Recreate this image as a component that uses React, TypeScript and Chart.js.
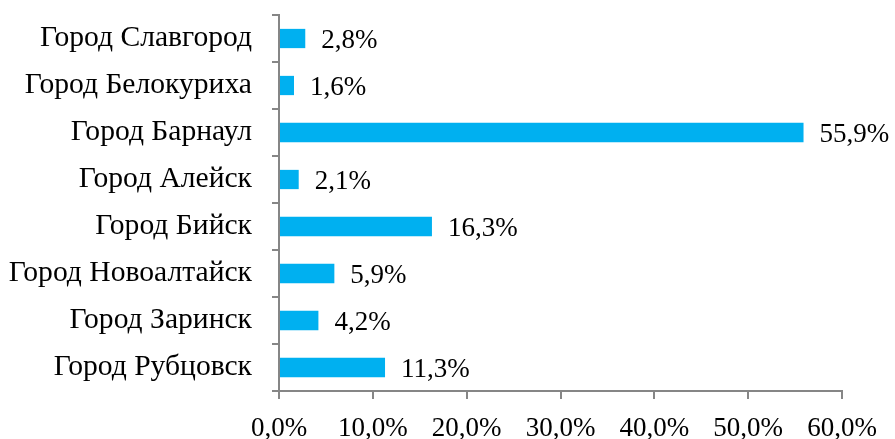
import React, { useEffect, useRef } from "react";
import { Chart, registerables } from "chart.js";

Chart.register(...registerables);

const categories = [
  "Город Славгород",
  "Город Белокуриха",
  "Город Барнаул",
  "Город Алейск",
  "Город Бийск",
  "Город Новоалтайск",
  "Город Заринск",
  "Город Рубцовск",
];
const values = [2.8, 1.6, 55.9, 2.1, 16.3, 5.9, 4.2, 11.3];
const xTicks = [0, 10, 20, 30, 40, 50, 60];

const fmt = (v: number) => v.toFixed(1).replace(".", ",") + "%";
const FONT = "'Liberation Serif', 'Times New Roman', serif";

const labelPlugin = {
  id: "barLabels",
  afterDatasetsDraw(chart: any) {
    const ctx = chart.ctx;
    const meta = chart.getDatasetMeta(0);
    ctx.save();
    ctx.font = `27px ${FONT}`;
    ctx.fillStyle = "#000";
    ctx.textAlign = "left";
    ctx.textBaseline = "middle";
    meta.data.forEach((bar: any, i: number) => {
      ctx.fillText(fmt(values[i]), bar.x + 16, bar.y + 2);
    });
    ctx.restore();
  },
};

export default function App() {
  const ref = useRef<HTMLCanvasElement>(null);
  useEffect(() => {
    if (!ref.current) return;
    const chart = new Chart(ref.current, {
      type: "bar",
      data: {
        labels: categories,
        datasets: [
          {
            data: values,
            backgroundColor: "#00B0F0",
            barPercentage: 0.41,
            categoryPercentage: 1,
          },
        ],
      },
      options: {
        indexAxis: "y",
        animation: false,
        responsive: false,
        maintainAspectRatio: false,
        layout: { padding: { top: 15, right: 53, left: 0, bottom: 0 } },
        plugins: { legend: { display: false }, tooltip: { enabled: false } },
        scales: {
          x: {
            min: 0,
            max: 60,
            afterBuildTicks: (s: any) => {
              s.ticks = xTicks.map((v) => ({ value: v }));
            },
            afterFit: (s: any) => {
              s.height = 48;
              s.paddingLeft = 0;
              s.paddingRight = 0;
            },
            ticks: {
              callback: (v: any) => fmt(Number(v)),
              font: { family: FONT, size: 27 },
              color: "#000",
              padding: 14,
              maxRotation: 0,
              autoSkip: false,
            },
            grid: {
              drawOnChartArea: false,
              drawTicks: true,
              tickLength: 8,
              color: "#868686",
              lineWidth: 2,
            },
            border: { color: "#868686", width: 2 },
          },
          y: {
            afterFit: (s: any) => {
              s.width = 279;
              s.paddingTop = 0;
              s.paddingBottom = 0;
            },
            ticks: {
              font: { family: FONT, size: 29.6 },
              color: "#000",
              padding: 20,
              autoSkip: false,
            },
            grid: {
              drawOnChartArea: false,
              drawTicks: true,
              tickLength: 7,
              color: "#868686",
              lineWidth: 2,
            },
            border: { color: "#868686", width: 2 },
          },
        },
      },
      plugins: [labelPlugin],
    });
    return () => chart.destroy();
  }, []);
  return (
    <div style={{ position: "fixed", left: 0, top: 0, width: 895, height: 439, background: "#fff" }}>
      <canvas ref={ref} width={895} height={439} style={{ width: 895, height: 439 }} />
    </div>
  );
}
